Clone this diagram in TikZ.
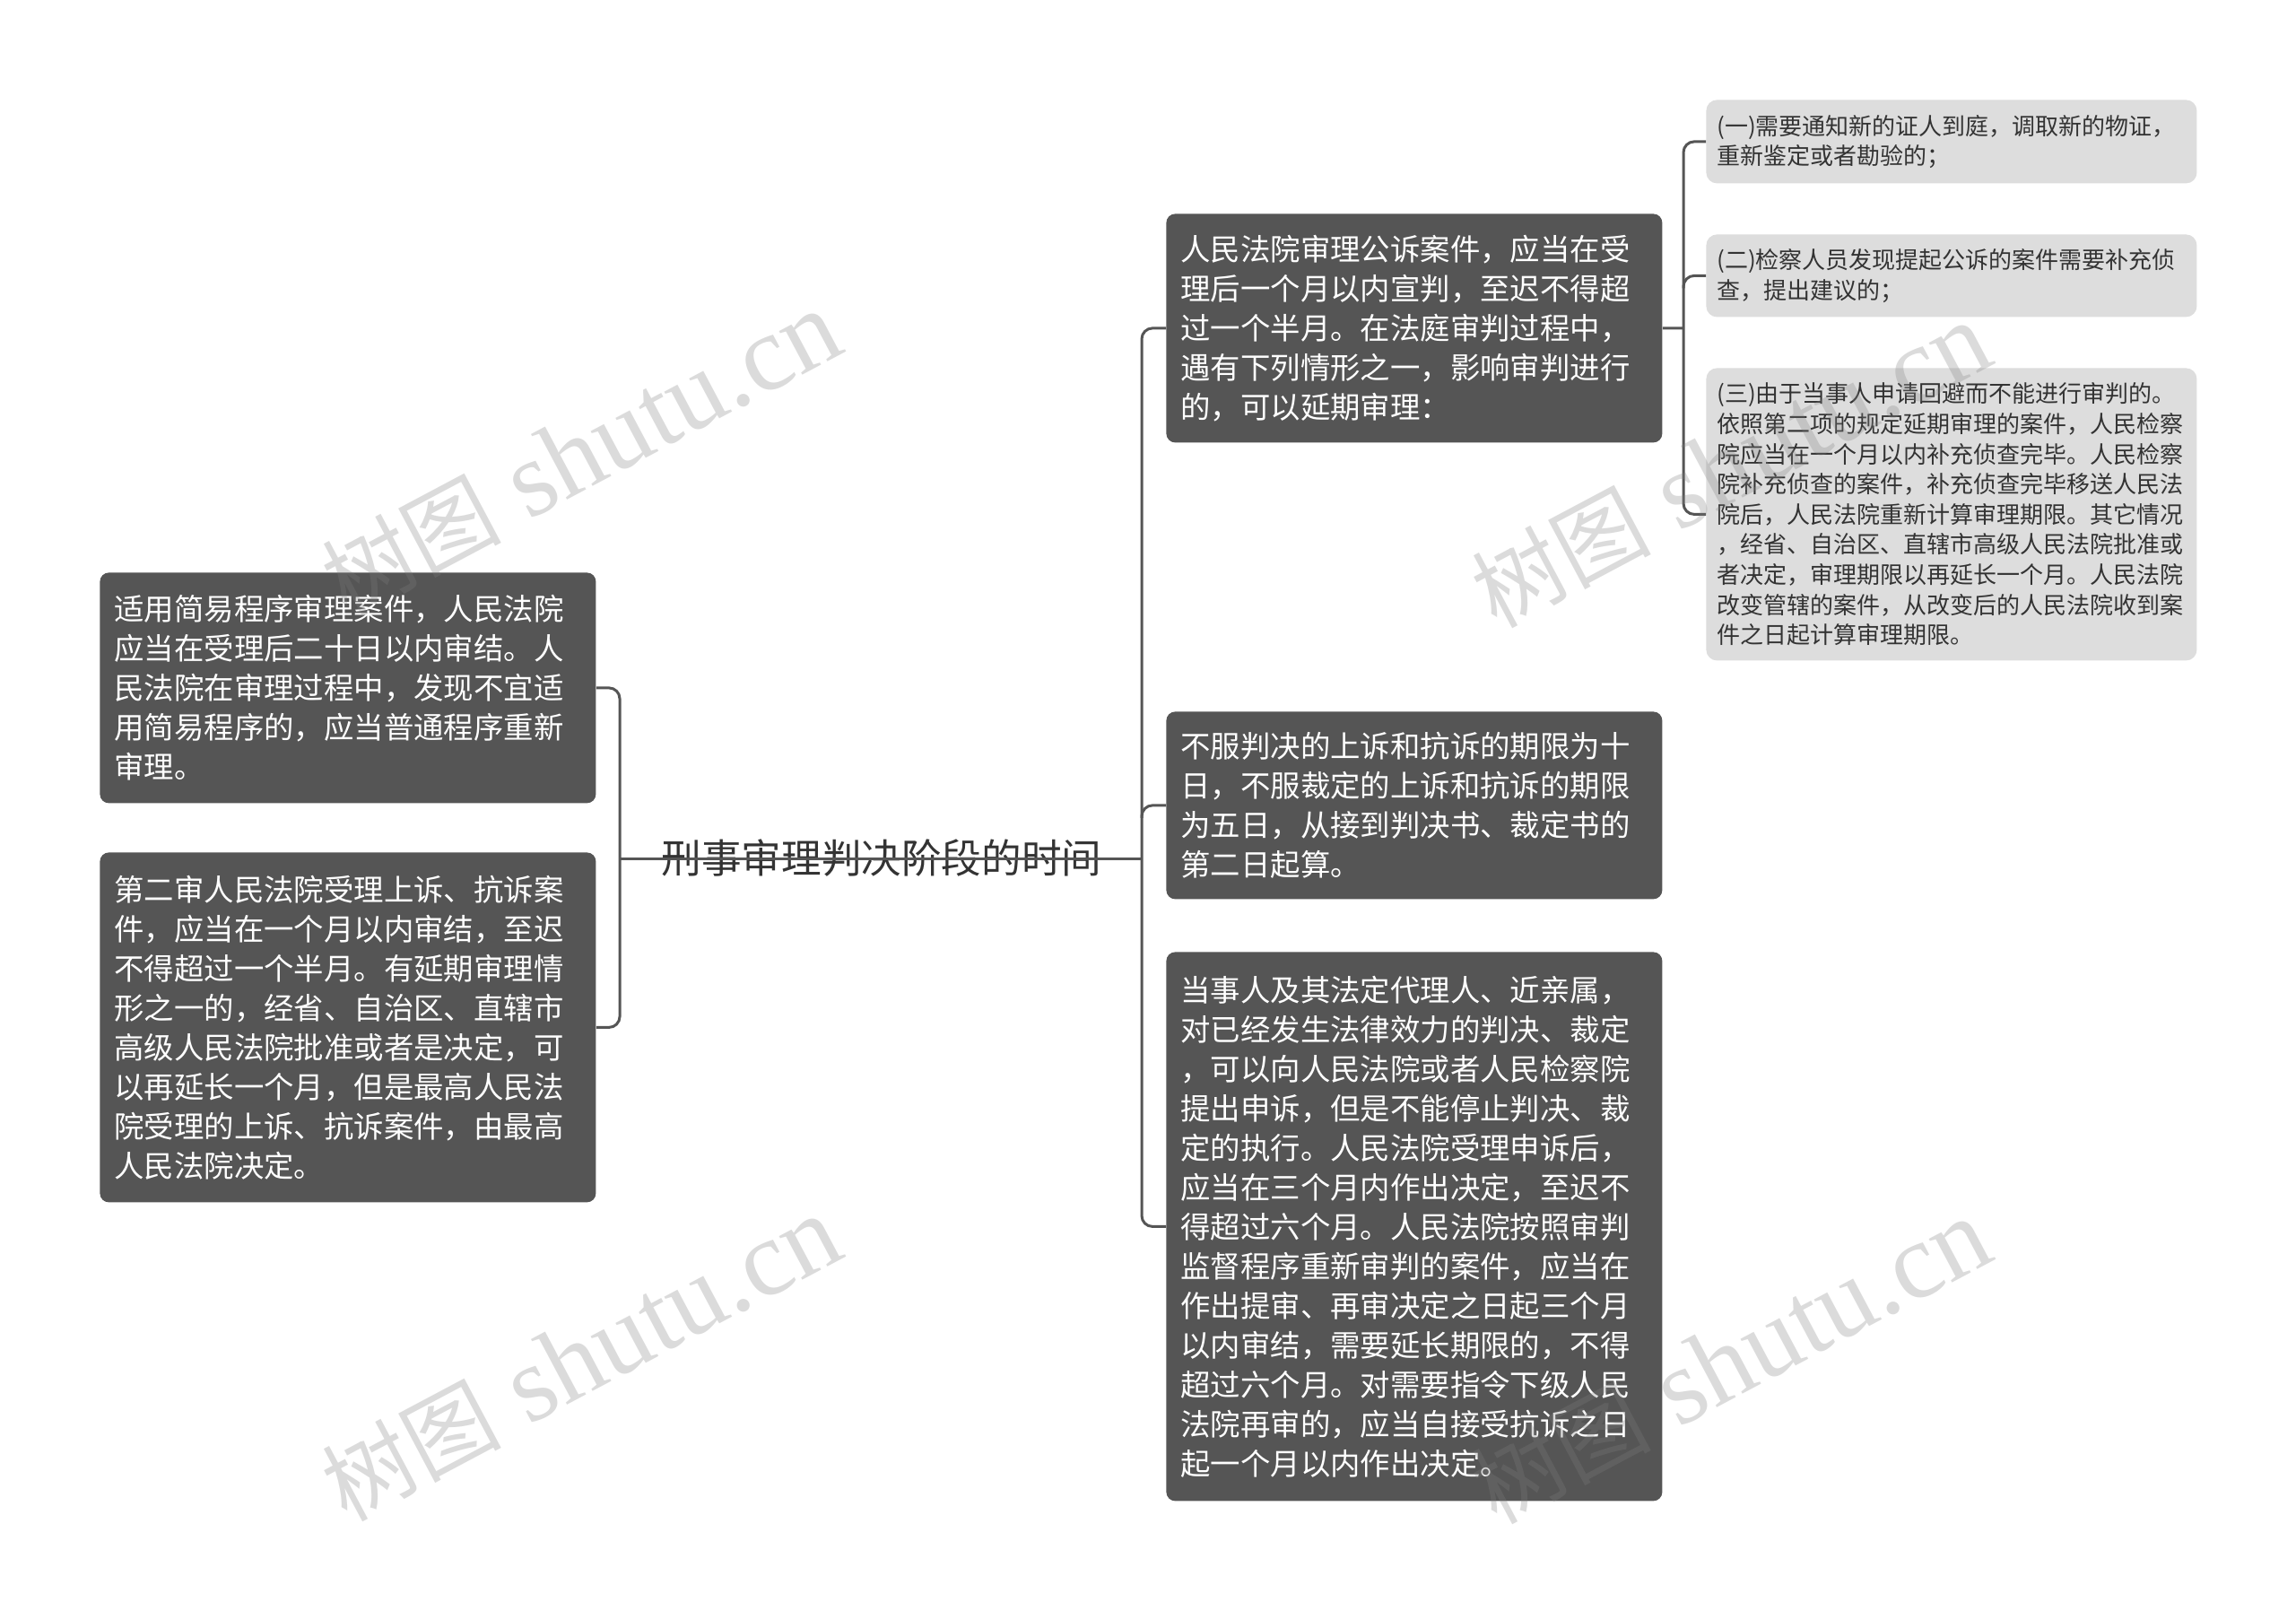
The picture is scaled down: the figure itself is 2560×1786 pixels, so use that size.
\documentclass[tikz,border=0pt]{standalone}
\usepackage{fontspec}
\setmainfont{Liberation Serif}
\newfontfamily\cjk{Noto Sans CJK SC}
\newfontfamily\wmserif{Liberation Serif}
\usetikzlibrary{calc}
\definecolor{darkbox}{HTML}{555555}
\definecolor{lightbox}{HTML}{DDDDDD}
\definecolor{linec}{HTML}{555555}
\definecolor{lighttext}{HTML}{333333}
\newcommand{\wmtext}{{\cjk\fontsize{50pt}{60pt}\selectfont 树图} {\wmserif shutu.cn}}
\begin{document}
\begin{tikzpicture}[x=0.5pt,y=-0.5pt,
  darknode/.style={fill=darkbox, rounded corners=5pt, text=white, anchor=north west,
    inner xsep=8pt, inner ysep=0pt, text width=260.5pt, align=left,
    font=\cjk\fontsize{16.7pt}{22pt}\selectfont, minimum width=276.5pt},
  lightnode/.style={fill=lightbox, rounded corners=6pt, text=lighttext, anchor=north west,
    inner xsep=6pt, inner ysep=0pt, text width=261.5pt, align=left,
    font=\cjk\fontsize{13pt}{16.8pt}\selectfont, minimum width=273.5pt},
  conn/.style={draw=linec, line width=1.5pt, rounded corners=6pt},
  wm/.style={rotate=28, text=gray, opacity=0.28, inner sep=0pt,
    font=\fontsize{60pt}{62pt}\selectfont}]
\useasboundingbox (0,0) rectangle (2560,1786);
\fill[white] (0,0) rectangle (2560,1786);

% left side
\node[darknode, minimum height=128.5pt] (L1) at (111,638)
  {适用简易程序审理案件，人民法院\\应当在受理后二十日以内审结。人\\民法院在审理过程中，发现不宜适\\用简易程序的，应当普通程序重新\\审理。};
\node[darknode, minimum height=195pt] (L2) at (111,950)
  {第二审人民法院受理上诉、抗诉案\\件，应当在一个月以内审结，至迟\\不得超过一个半月。有延期审理情\\形之一的，经省、自治区、直辖市\\高级人民法院批准或者是决定，可\\以再延长一个月，但是最高人民法\\院受理的上诉、抗诉案件，由最高\\人民法院决定。};

% right side
\node[darknode, minimum height=127.5pt] (R1) at (1300,238)
  {人民法院审理公诉案件，应当在受\\理后一个月以内宣判，至迟不得超\\过一个半月。在法庭审判过程中，\\遇有下列情形之一，影响审判进行\\的，可以延期审理：};
\node[darknode, minimum height=104.5pt] (R2) at (1300,793)
  {不服判决的上诉和抗诉的期限为十\\日，不服裁定的上诉和抗诉的期限\\为五日，从接到判决书、裁定书的\\第二日起算。};
\node[darknode, minimum height=306pt] (R3) at (1300,1061)
  {当事人及其法定代理人、近亲属，\\对已经发生法律效力的判决、裁定\\，可以向人民法院或者人民检察院\\提出申诉，但是不能停止判决、裁\\定的执行。人民法院受理申诉后，\\应当在三个月内作出决定，至迟不\\得超过六个月。人民法院按照审判\\监督程序重新审判的案件，应当在\\作出提审、再审决定之日起三个月\\以内审结，需要延长期限的，不得\\超过六个月。对需要指令下级人民\\法院再审的，应当自接受抗诉之日\\起一个月以内作出决定。};

% children of R1
\node[lightnode, minimum height=46.5pt] (C1) at (1902,111)
  {(一)需要通知新的证人到庭，调取新的物证，\\重新鉴定或者勘验的；};
\node[lightnode, minimum height=46pt] (C2) at (1902,261)
  {(二)检察人员发现提起公诉的案件需要补充侦\\查，提出建议的；};
\node[lightnode, minimum height=163pt] (C3) at (1902,410)
  {(三)由于当事人申请回避而不能进行审判的。\\依照第二项的规定延期审理的案件，人民检察\\院应当在一个月以内补充侦查完毕。人民检察\\院补充侦查的案件，补充侦查完毕移送人民法\\院后，人民法院重新计算审理期限。其它情况\\，经省、自治区、直辖市高级人民法院批准或\\者决定，审理期限以再延长一个月。人民法院\\改变管辖的案件，从改变后的人民法院收到案\\件之日起计算审理期限。};

% root
\node[font=\cjk\fontsize{22.3pt}{26pt}\selectfont, text=lighttext, inner sep=0pt] (root) at (983,957) {刑事审理判决阶段的时间};

% junctions
\coordinate (lj) at (691,957);
\coordinate (rj) at (1273,957);
\coordinate (cj) at (1877,366);

% connectors
\draw[conn] (L1.east) -| (lj) |- (L2.east);
\draw[conn] (lj) -- (rj);
\draw[conn] (R1.west) -| (rj) |- (R3.west);
\draw[conn] (R2.west) -| ($(rj|-R2.west)+(0,14)$);
\draw[conn] (R1.east) -- (cj);
\draw[conn] (C1.west) -| (cj) |- (C3.west);
\draw[conn] (C2.west) -| ($(cj|-C2.west)+(0,14)$);

% watermarks
\node[wm] (w1) at (648,506) {\wmtext};
\node[wm] (w2) at (1930,519) {\wmtext};
\node[wm] (w3) at (648,1515) {\wmtext};
\node[wm] (w4) at (1930,1518) {\wmtext};
\end{tikzpicture}
\end{document}
